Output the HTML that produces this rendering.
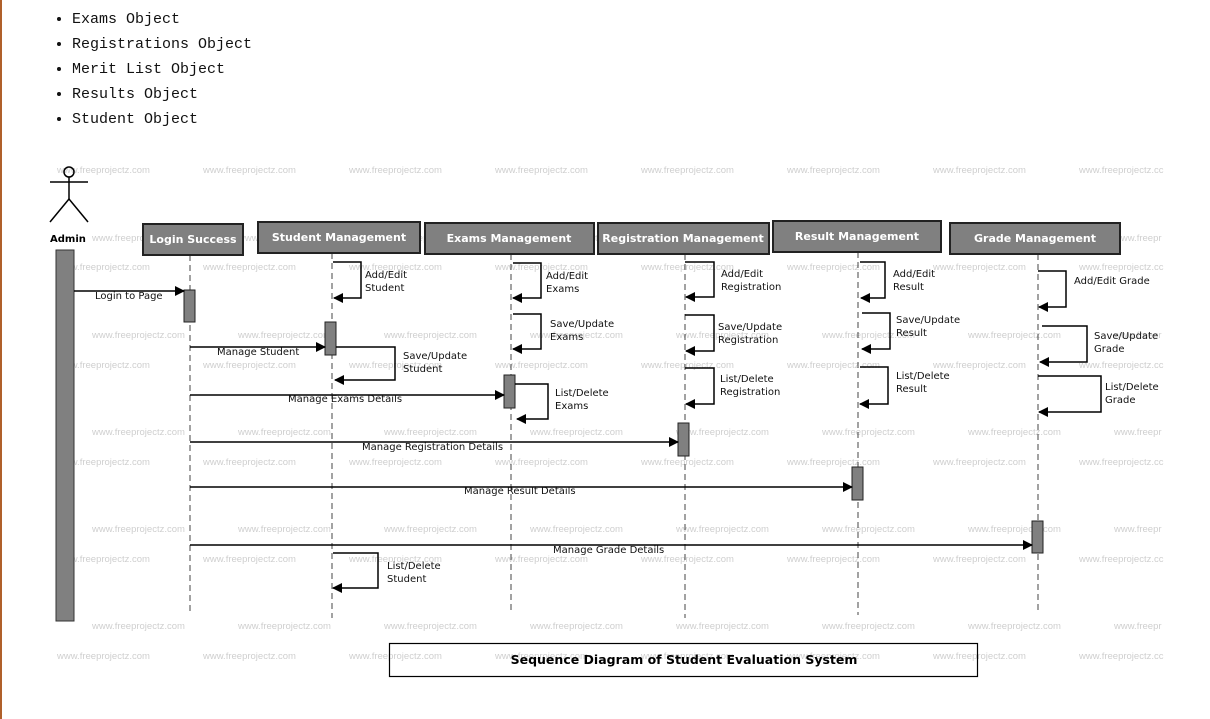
<!DOCTYPE html>
<html><head><meta charset="utf-8"><style>
html,body{margin:0;padding:0;background:#fff;width:1210px;height:719px;overflow:hidden;}
.l{position:absolute;left:0;top:0;width:2px;height:719px;background:#b0602a;}
ul{position:absolute;left:54px;top:7px;margin:0;padding:0 0 0 18px;font-family:"Liberation Mono",monospace;font-size:15px;line-height:25px;color:#111;}
svg{position:absolute;left:0;top:0;}
</style></head><body>
<div class="l"></div>
<ul><li>Exams Object</li><li>Registrations Object</li><li>Merit List Object</li><li>Results Object</li><li>Student Object</li></ul>
<svg width="1210" height="719" font-family="'DejaVu Sans','Liberation Sans',sans-serif">
<defs><marker id="a" markerWidth="10" markerHeight="10" refX="9" refY="5" orient="auto" markerUnits="userSpaceOnUse"><path d="M0,0L10,5L0,10z" fill="#000"/></marker></defs>
<g font-size="9.5" fill="#cfcfcf" font-family="'Liberation Sans',sans-serif">
<g id="r1"><text x="57" y="173">www.freeprojectz.com</text><text x="203" y="173">www.freeprojectz.com</text><text x="349" y="173">www.freeprojectz.com</text><text x="495" y="173">www.freeprojectz.com</text><text x="641" y="173">www.freeprojectz.com</text><text x="787" y="173">www.freeprojectz.com</text><text x="933" y="173">www.freeprojectz.com</text><text x="1079" y="173">www.freeprojectz.cc</text></g>
<use href="#r1" y="97"/><use href="#r1" y="195"/><use href="#r1" y="292"/><use href="#r1" y="389"/><use href="#r1" y="486"/>
<g id="r2"><text x="92" y="241">www.freeprojectz.com</text><text x="238" y="241">www.freeprojectz.com</text><text x="384" y="241">www.freeprojectz.com</text><text x="530" y="241">www.freeprojectz.com</text><text x="676" y="241">www.freeprojectz.com</text><text x="822" y="241">www.freeprojectz.com</text><text x="968" y="241">www.freeprojectz.com</text><text x="1114" y="241">www.freepr</text></g>
<use href="#r2" y="97"/><use href="#r2" y="194"/><use href="#r2" y="291"/><use href="#r2" y="388"/>
</g>
<g stroke="#000" stroke-width="1.5" fill="none"><circle cx="69" cy="172" r="5"/><line x1="69" y1="177" x2="69" y2="199"/><line x1="50" y1="182" x2="88" y2="182"/><line x1="69" y1="199" x2="50" y2="222"/><line x1="69" y1="199" x2="88" y2="222"/></g>
<text x="50" y="242" font-size="10" font-weight="bold">Admin</text>
<rect x="56" y="250" width="18" height="371" fill="#808080" stroke="#333"/>
<g stroke="#444" stroke-dasharray="6,4" stroke-width="1">
<line x1="190" y1="255" x2="190" y2="615"/><line x1="332" y1="253" x2="332" y2="618"/><line x1="511" y1="254" x2="511" y2="610"/><line x1="685" y1="254" x2="685" y2="618"/><line x1="858" y1="252" x2="858" y2="615"/><line x1="1038" y1="254" x2="1038" y2="612"/>
</g>
<g fill="#808080" stroke="#222" stroke-width="2">
<rect x="143" y="224" width="100" height="31"/><rect x="258" y="222" width="162" height="31"/><rect x="425" y="223" width="169" height="31"/><rect x="598" y="223" width="171" height="31"/><rect x="773" y="221" width="168" height="31"/><rect x="950" y="223" width="170" height="31"/>
</g>
<g fill="#fff" font-size="11" font-weight="bold" text-anchor="middle">
<text x="193" y="243">Login Success</text><text x="339" y="241">Student Management</text><text x="509" y="242">Exams Management</text><text x="683" y="242">Registration Management</text><text x="857" y="240">Result Management</text><text x="1035" y="242">Grade Management</text>
</g>
<g fill="#808080" stroke="#222" stroke-width="1">
<rect x="184" y="290" width="11" height="32"/><rect x="325" y="322" width="11" height="33"/><rect x="504" y="375" width="11" height="33"/><rect x="678" y="423" width="11" height="33"/><rect x="852" y="467" width="11" height="33"/><rect x="1032" y="521" width="11" height="32"/>
</g>
<g stroke="#000" stroke-width="1.5" fill="none" marker-end="url(#a)">
<path d="M74,291H184"/><path d="M190,347H325"/><path d="M190,395H504"/><path d="M190,442H678"/><path d="M190,487H852"/><path d="M190,545H1032"/>
<path d="M333,262H361V298H334"/><path d="M336,347H395V380H335"/><path d="M333,553H378V588H333"/>
<path d="M513,263H541V298H513"/><path d="M513,314H541V349H513"/><path d="M515,384H548V419H517"/>
<path d="M685,262H714V297H686"/><path d="M685,315H714V351H686"/><path d="M685,368H714V404H686"/>
<path d="M860,262H885V298H861"/><path d="M862,313H890V349H862"/><path d="M860,367H888V404H860"/>
<path d="M1038,271H1066V307H1039"/><path d="M1042,326H1087V362H1040"/><path d="M1038,376H1101V412H1039"/>
</g>
<g font-size="10" fill="#111">
<text x="95" y="299">Login to Page</text><text x="217" y="355">Manage Student</text><text x="288" y="402">Manage  Exams Details</text><text x="362" y="450">Manage Registration Details</text><text x="464" y="494">Manage Result Details</text><text x="553" y="553">Manage Grade Details</text>
<text x="365" y="278">Add/Edit</text><text x="365" y="291">Student</text>
<text x="403" y="359">Save/Update</text><text x="403" y="372">Student</text>
<text x="387" y="569">List/Delete</text><text x="387" y="582">Student</text>
<text x="546" y="279">Add/Edit</text><text x="546" y="292">Exams</text>
<text x="550" y="327">Save/Update</text><text x="550" y="340">Exams</text>
<text x="555" y="396">List/Delete</text><text x="555" y="409">Exams</text>
<text x="721" y="277">Add/Edit</text><text x="721" y="290">Registration</text>
<text x="718" y="330">Save/Update</text><text x="718" y="343">Registration</text>
<text x="720" y="382">List/Delete</text><text x="720" y="395">Registration</text>
<text x="893" y="277">Add/Edit</text><text x="893" y="290">Result</text>
<text x="896" y="323">Save/Update</text><text x="896" y="336">Result</text>
<text x="896" y="379">List/Delete</text><text x="896" y="392">Result</text>
<text x="1074" y="284">Add/Edit Grade</text>
<text x="1094" y="339">Save/Update</text><text x="1094" y="352">Grade</text>
<text x="1105" y="390">List/Delete</text><text x="1105" y="403">Grade</text>
</g>
<rect x="389.5" y="643.5" width="588" height="33" fill="none" stroke="#000" stroke-width="1.2"/>
<text x="684" y="664" font-size="12.5" font-weight="bold" text-anchor="middle">Sequence Diagram of Student Evaluation System</text>
</svg>
</body></html>
